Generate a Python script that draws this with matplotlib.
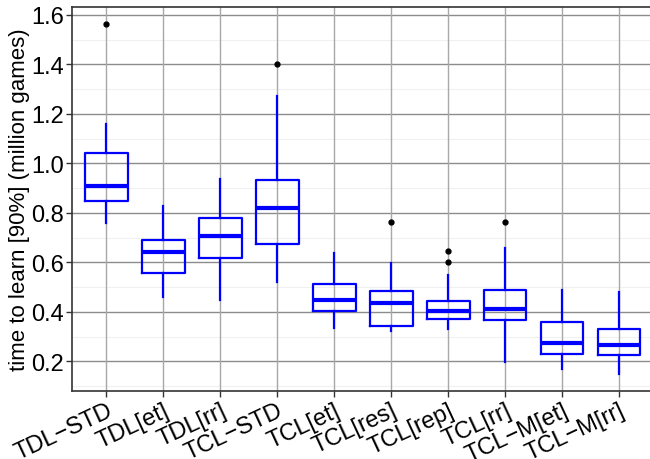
import matplotlib.pyplot as plt
import numpy as np

plt.rcParams['font.family'] = ['Liberation Sans', 'DejaVu Sans']

# learning time per algorithm variant (million games to reach 90%)
labels = ['TDL\u2212STD', 'TDL[et]', 'TDL[rr]', 'TCL\u2212STD', 'TCL[et]',
          'TCL[res]', 'TCL[rep]', 'TCL[rr]', 'TCL\u2212M[et]', 'TCL\u2212M[rr]']
whislo = [0.760, 0.459, 0.450, 0.522, 0.334, 0.322, 0.331, 0.199, 0.170, 0.151]
q1 = [0.847, 0.559, 0.619, 0.675, 0.405, 0.343, 0.372, 0.369, 0.229, 0.225]
med = [0.910, 0.641, 0.708, 0.820, 0.450, 0.435, 0.405, 0.411, 0.275, 0.265]
q3 = [1.041, 0.691, 0.780, 0.932, 0.513, 0.484, 0.446, 0.488, 0.360, 0.331]
whishi = [1.160, 0.829, 0.937, 1.270, 0.638, 0.597, 0.549, 0.659, 0.489, 0.480]
fliers = [[1.562], [], [], [1.401], [], [0.762], [0.601, 0.648], [0.762], [], []]

stats = []
for i in range(len(labels)):
    stats.append(dict(label=labels[i], whislo=whislo[i], q1=q1[i], med=med[i],
                      q3=q3[i], whishi=whishi[i], fliers=fliers[i]))

fig = plt.figure(figsize=(6.5, 4.6), dpi=100)
ax = fig.add_axes([0.111, 0.148, 0.894, 0.835])

# grid first so boxes sit on top
for v in np.arange(0.1, 1.65, 0.1):
    major = abs(round(v * 10) % 2) == 0
    ax.axhline(v, color='#8c8c8c' if major else '#f0f0f0',
               lw=1.0 if major else 0.8, zorder=0)
for x in range(1, len(labels) + 1):
    ax.axvline(x, color='#a8a8a8', lw=1.0, zorder=0)

blue = '#0000ff'
ax.bxp(stats, positions=range(1, len(labels) + 1), widths=0.75,
       showcaps=False, patch_artist=False,
       boxprops=dict(color=blue, lw=1.6),
       whiskerprops=dict(color=blue, lw=1.6),
       medianprops=dict(color=blue, lw=3.0, solid_capstyle='butt'),
       flierprops=dict(marker='o', markerfacecolor='black', markeredgecolor='black',
                       markersize=3.5))

ax.set_xlim(0.4, 10.6)
ax.set_ylim(0.081, 1.632)
ax.set_yticks([0.2, 0.4, 0.6, 0.8, 1.0, 1.2, 1.4, 1.6])
ax.set_yticklabels(['0.2', '0.4', '0.6', '0.8', '1.0', '1.2', '1.4', '1.6'])
ax.set_xticks(range(1, len(labels) + 1))
ax.set_xticklabels(labels, rotation=25, ha='right', rotation_mode='anchor')
ax.tick_params(axis='both', labelsize=17, color='#333333', length=4, width=1,
               labelcolor='black', pad=2)
ax.set_ylabel('time to learn [90%] (million games)', fontsize=16, labelpad=1)
for s in ax.spines.values():
    s.set_color('#333333')
    s.set_linewidth(1.2)

fig.savefig('out.png', dpi=100)
